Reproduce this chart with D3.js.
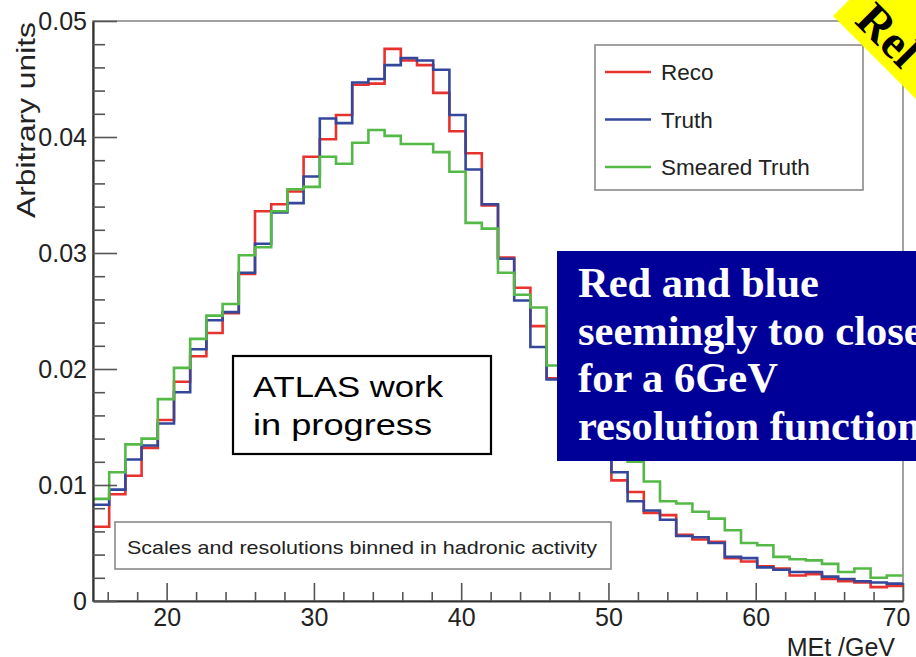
<!DOCTYPE html>
<html><head><meta charset="utf-8">
<script src="https://cdn.jsdelivr.net/npm/d3@7"></script>
<style>
html,body{margin:0;padding:0;background:#fff;overflow:hidden}
svg{display:block}
text{font-family:"Liberation Sans",Arial,sans-serif}
</style></head>
<body>
<svg id="c" width="916" height="657"></svg>
<script>
// ---- data ----
const binLow = 15, binWidth = 1.1;   // 50 bins from 15 to 70 GeV
const reco = [0.0064,0.0092,0.0108,0.0132,0.0156,0.0189,0.0211,0.0231,0.0248,0.0282,
  0.0336,0.0342,0.0353,0.0383,0.0398,0.0419,0.0445,0.0446,0.0476,0.0466,
  0.0462,0.0438,0.0405,0.0386,0.0341,0.0296,0.0270,0.0237,0.0192,0.0170,
  0.0148,0.0125,0.0104,0.0094,0.0076,0.0074,0.0057,0.0053,0.0051,0.0037,
  0.0034,0.0030,0.0028,0.0022,0.0023,0.0019,0.0017,0.0016,0.0012,0.0013];
const truth = [0.0083,0.0096,0.0122,0.0134,0.0153,0.0180,0.0217,0.0242,0.0249,0.0283,
  0.0308,0.0335,0.0343,0.0366,0.0416,0.0412,0.0447,0.0450,0.0462,0.0468,
  0.0466,0.0458,0.0419,0.0372,0.0342,0.0295,0.0259,0.0219,0.0191,0.0172,
  0.0150,0.0128,0.0111,0.0086,0.0078,0.0070,0.0056,0.0055,0.0050,0.0038,
  0.0037,0.0029,0.0027,0.0025,0.0025,0.0021,0.0019,0.0017,0.0016,0.0015];
const smeared = [0.0088,0.0111,0.0135,0.0140,0.0174,0.0201,0.0226,0.0246,0.0256,0.0298,
  0.0305,0.0336,0.0355,0.0357,0.0383,0.0377,0.0395,0.0406,0.0401,0.0394,
  0.0394,0.0387,0.0370,0.0326,0.0321,0.0283,0.0264,0.0253,0.0203,0.0185,
  0.0165,0.0148,0.0132,0.0120,0.0103,0.0086,0.0084,0.0077,0.0071,0.0061,
  0.0050,0.0048,0.0038,0.0036,0.0035,0.0032,0.0025,0.0028,0.0020,0.0022];
const seriesNames = ["Reco","Truth","Smeared Truth"];
const seriesColors = ["#e8322e","#34479b","#55b947"];
const xTicks = [20,30,40,50,60,70];
const xMinor = [16,18,22,24,26,28,32,34,36,38,42,44,46,48,52,54,56,58,62,64,66,68];
const yTicks = [0,0.01,0.02,0.03,0.04,0.05];
const yTickLabels = ["0","0.01","0.02","0.03","0.04","0.05"];
const yMinor = [0.002,0.004,0.006,0.008,0.012,0.014,0.016,0.018,0.022,0.024,0.026,0.028,
  0.032,0.034,0.036,0.038,0.042,0.044,0.046,0.048];
const xTitle = "MEt /GeV", yTitle = "Arbitrary units";
const noteText = "Scales and resolutions binned in hadronic activity";
const atlasLines = ["ATLAS work","in progress"];
const atlasLengths = [190,179];
const commentLines = ["Red and blue","seemingly too close","for a 6GeV","resolution function"];
const bannerText = "Rel";

// ---- layout ----
const L=93, R=903, T=21, B=601;
const svg = d3.select("#c");
const x = d3.scaleLinear().domain([15,70]).range([L,R]);
const y = d3.scaleLinear().domain([0,0.05]).range([B,T]);

// frame
svg.append("rect").attr("x",L).attr("y",T).attr("width",R-L).attr("height",B-T)
  .attr("fill","#fff").attr("stroke","#8a8a8a").attr("stroke-width",1.6);

// histograms
const allSeries=[reco,truth,smeared];
const line = d3.line().x(d=>x(d[0])).y(d=>y(d[1]));
allSeries.forEach((vals,si)=>{
  const pts=[];
  vals.forEach((v,i)=>{ pts.push([binLow+i*binWidth,v]); pts.push([binLow+(i+1)*binWidth,v]); });
  svg.append("path").attr("d",line(pts)).attr("fill","none")
    .attr("stroke",seriesColors[si]).attr("stroke-width",2.6).attr("stroke-linejoin","miter");
});

// axes
const gx = svg.append("g").attr("transform",`translate(0,${B})`)
  .call(d3.axisBottom(x).tickValues(xTicks).tickSizeInner(-18).tickSizeOuter(0).tickPadding(5)
  .tickFormat(d=>d));
gx.select(".domain").attr("stroke","#333").attr("stroke-width",2.2);
gx.selectAll(".tick line").attr("stroke","#555").attr("stroke-width",1.6);
gx.selectAll(".tick text").attr("font-size",25).attr("fill","#222").attr("dy","0.78em")
  .attr("transform",(d)=> d===70? "translate(-7,0)":null);
svg.append("g").attr("transform",`translate(0,${B})`)
  .call(d3.axisBottom(x).tickValues(xMinor).tickSizeInner(-9).tickSizeOuter(0).tickFormat(""))
  .call(g=>{g.select(".domain").remove(); g.selectAll("line").attr("stroke","#555").attr("stroke-width",1.6);});

const gy = svg.append("g").attr("transform",`translate(${L},0)`)
  .call(d3.axisLeft(y).tickValues(yTicks).tickSizeInner(-24).tickSizeOuter(0).tickPadding(6)
  .tickFormat((d,i)=>yTickLabels[i]));
gy.select(".domain").attr("stroke","#333").attr("stroke-width",2.2);
gy.selectAll(".tick line").attr("stroke","#555").attr("stroke-width",1.6);
gy.selectAll(".tick text").attr("font-size",25).attr("fill","#222");
svg.append("g").attr("transform",`translate(${L},0)`)
  .call(d3.axisLeft(y).tickValues(yMinor).tickSizeInner(-12).tickSizeOuter(0).tickFormat(""))
  .call(g=>{g.select(".domain").remove(); g.selectAll("line").attr("stroke","#555").attr("stroke-width",1.6);});

// axis titles
svg.append("text").attr("transform","translate(35,22) rotate(-90)").attr("text-anchor","end")
  .attr("font-size",26).attr("fill","#222").attr("textLength",196).attr("lengthAdjust","spacingAndGlyphs")
  .text(yTitle);
svg.append("text").attr("x",895).attr("y",656).attr("text-anchor","end")
  .attr("font-size",25).attr("fill","#222").text(xTitle);

// legend
const lg = svg.append("g");
lg.append("rect").attr("x",595).attr("y",45).attr("width",268).attr("height",145)
  .attr("fill","#fff").attr("stroke","#8a8a8a").attr("stroke-width",1.6);
seriesNames.forEach((n,i)=>{
  const yy = 72 + i*47.5;
  lg.append("line").attr("x1",605).attr("x2",651).attr("y1",yy).attr("y2",yy)
    .attr("stroke",seriesColors[i]).attr("stroke-width",2.6);
  lg.append("text").attr("x",661).attr("y",yy).attr("dy","0.36em").attr("font-size",22.5)
    .attr("fill","#222").text(n);
});

// note box
svg.append("rect").attr("x",115).attr("y",522).attr("width",496).attr("height",47)
  .attr("fill","#fff").attr("stroke","#8a8a8a").attr("stroke-width",1.6);
svg.append("text").attr("x",127).attr("y",554).attr("font-size",19).attr("fill","#222")
  .attr("textLength",470).attr("lengthAdjust","spacingAndGlyphs").text(noteText);

// ATLAS box
svg.append("rect").attr("x",233).attr("y",356).attr("width",258).attr("height",98)
  .attr("fill","#fff").attr("stroke","#000").attr("stroke-width",2.2);
atlasLines.forEach((t,i)=>{
  svg.append("text").attr("x",253).attr("y",397+i*38).attr("font-size",30).attr("fill","#000")
    .attr("textLength",atlasLengths[i]).attr("lengthAdjust","spacingAndGlyphs").text(t);
});

// comment box
svg.append("rect").attr("x",557).attr("y",251).attr("width",370).attr("height",210).attr("fill","#000099");
commentLines.forEach((t,i)=>{
  svg.append("text").attr("x",578).attr("y",297+i*47.7).attr("font-size",42.5).attr("font-weight","bold")
    .style("font-family","'Liberation Serif','Times New Roman',serif").attr("fill","#fff").text(t);
});

// yellow corner banner
const bn = svg.append("g").attr("transform","translate(833,16) rotate(45)");
bn.append("rect").attr("x",0).attr("y",-80).attr("width",220).attr("height",80).attr("fill","#ffff00");
bn.append("text").attr("x",19).attr("y",-10).attr("font-size",47).attr("font-weight","bold")
  .style("font-family","'Liberation Serif','Times New Roman',serif").attr("fill","#000").text(bannerText);
</script>
</body></html>
